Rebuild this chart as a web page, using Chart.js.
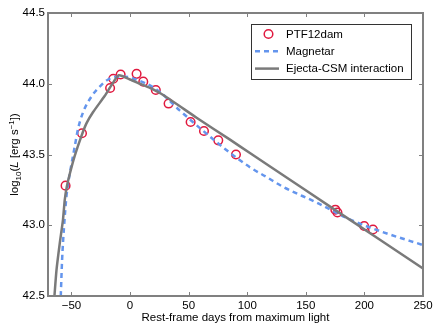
<!DOCTYPE html>
<html>
<head>
<meta charset="utf-8">
<script src="https://cdn.jsdelivr.net/npm/chart.js@4/dist/chart.umd.min.js"></script>
<style>
  html, body { margin: 0; padding: 0; background: #fff; }
  #wrap { width: 436px; height: 329px; }
</style>
</head>
<body>
<div id="wrap"><canvas id="lcChart"></canvas></div>
<script>
// PTF12dam observed points (rest-frame days, log10 L)
const obsDays = [-55, -41, -17, -14.3, -8, 5.6, 11.3, 22, 32.9, 51.7, 63.1, 75.3, 90.4, 175.2, 177, 199.8, 207.3];
const obsLogL = [43.28, 43.65, 43.97, 44.035, 44.065, 44.07, 44.015, 43.956, 43.86, 43.73, 43.666, 43.60, 43.50, 43.11, 43.09, 42.995, 42.97];

// magnetar model curve
const magDays = [-59.1, -58, -56.3, -54.3, -52.9, -50, -47.2, -44.4, -40, -32.9, -25.8, -18.7, -11.5, -5, 5, 22.6, 42.6, 62, 82.5, 102.3, 116.7, 130.9, 159.4, 187.9, 216.3, 250];
const magLogL = [42.5, 42.75, 42.99, 43.2, 43.29, 43.43, 43.555, 43.68, 43.8, 43.91, 43.98, 44.03, 44.05, 44.05, 44.03, 43.96, 43.81, 43.67, 43.53, 43.41, 43.34, 43.27, 43.16, 43.04, 42.95, 42.86];

// ejecta-CSM interaction model curve
const csmDays = [-64.5, -62.8, -60, -57.2, -55.7, -54, -51.5, -47.2, -41.5, -37.2, -31.5, -21.5, -15.8, -9.6, 0, 8.4, 17, 28.3, 56.8, 85.3, 102.3, 119.5, 176.5, 250];
const csmLogL = [42.5, 42.68, 42.87, 43.04, 43.18, 43.27, 43.36, 43.49, 43.63, 43.72, 43.80, 43.915, 43.99, 44.06, 44.03, 44.0, 43.97, 43.92, 43.76, 43.605, 43.51, 43.415, 43.10, 42.695];

const xTicks = [-50, 0, 50, 100, 150, 200, 250];
const yTicks = [42.5, 43.0, 43.5, 44.0, 44.5];

const toPts = (xs, ys) => xs.map((x, i) => ({ x: x, y: ys[i] }));
const FONT = 'Liberation Sans, Arial, Helvetica, sans-serif';
const frameColor = '#808080';

// y title drawn by hand so the sub/superscripts and italic L look right
function drawYTitle(ctx, cy) {
    const parts = [
        { t: 'log', f: '11.5px ' + FONT, dy: 0 },
        { t: '10', f: '8px ' + FONT, dy: 3 },
        { t: '(', f: '11.5px ' + FONT, dy: 0 },
        { t: 'L', f: 'italic 11.5px ' + FONT, dy: 0 },
        { t: ' [erg s', f: '11.5px ' + FONT, dy: 0 },
        { t: '\u22121', f: '8px ' + FONT, dy: -4.5 },
        { t: '])', f: '11.5px ' + FONT, dy: 0 }
    ];
    let total = 0;
    parts.forEach(p => { ctx.font = p.f; p.w = ctx.measureText(p.t).width; total += p.w; });
    ctx.save();
    ctx.translate(0, cy);
    ctx.rotate(-Math.PI / 2);
    ctx.fillStyle = '#000';
    ctx.textBaseline = 'alphabetic';
    let x = -total / 2;
    parts.forEach(p => {
        ctx.font = p.f;
        ctx.fillText(p.t, x, 18 + p.dy);
        x += p.w;
    });
    ctx.restore();
}

// frame + inward ticks like matplotlib classic
const framePlugin = {
    id: 'frame',
    afterDraw(chart) {
        const { ctx, chartArea: a, scales } = chart;
        ctx.save();
        ctx.strokeStyle = frameColor;
        ctx.lineWidth = 1;
        xTicks.forEach(v => {
            const px = Math.round(scales.x.getPixelForValue(v)) + 0.5;
            ctx.beginPath();
            ctx.moveTo(px, a.bottom); ctx.lineTo(px, a.bottom - 4);
            ctx.moveTo(px, a.top); ctx.lineTo(px, a.top + 4);
            ctx.stroke();
        });
        yTicks.forEach(v => {
            const py = Math.round(scales.y.getPixelForValue(v)) + 0.5;
            ctx.beginPath();
            ctx.moveTo(a.left, py); ctx.lineTo(a.left + 4, py);
            ctx.moveTo(a.right, py); ctx.lineTo(a.right - 4, py);
            ctx.stroke();
        });
        ctx.lineWidth = 2;
        ctx.strokeRect(a.left, a.top, a.right - a.left, a.bottom - a.top);

        // legend box
        const bx = a.right - 172, by = a.top + 11, bw = 160, bh = 55;
        ctx.fillStyle = '#fff';
        ctx.fillRect(bx, by, bw, bh);
        ctx.strokeStyle = '#333';
        ctx.lineWidth = 1;
        ctx.strokeRect(bx + 0.5, by + 0.5, bw, bh);
        ctx.font = '11.5px ' + FONT;
        ctx.fillStyle = '#000';
        ctx.textBaseline = 'middle';
        chart.data.datasets.forEach((ds, i) => {
            const ry = by + 10 + i * 17.3;
            ctx.strokeStyle = ds.borderColor;
            if (i === 0) {
                ctx.lineWidth = 1.5;
                ctx.beginPath();
                ctx.arc(bx + 17.5, ry, 4.3, 0, Math.PI * 2);
                ctx.stroke();
            } else {
                ctx.lineWidth = ds.borderWidth;
                ctx.setLineDash(ds.borderDash || []);
                ctx.beginPath();
                ctx.moveTo(bx + 4, ry); ctx.lineTo(bx + 28, ry);
                ctx.stroke();
                ctx.setLineDash([]);
            }
            ctx.fillText(ds.label, bx + 35, ry + 0.5);
        });
        ctx.restore();

        drawYTitle(ctx, (a.top + a.bottom) / 2);
    }
};

new Chart(document.getElementById('lcChart').getContext('2d'), {
    type: 'scatter',
    data: {
        datasets: [
            {
                label: 'PTF12dam',
                data: toPts(obsDays, obsLogL),
                borderColor: '#e0193f',
                backgroundColor: 'rgba(0,0,0,0)',
                borderWidth: 1.5,
                pointRadius: 4.3,
                order: 3
            },
            {
                label: 'Magnetar',
                data: toPts(magDays, magLogL),
                showLine: true,
                borderColor: '#6495ed',
                borderWidth: 2.5,
                borderDash: [5, 4],
                pointRadius: 0,
                cubicInterpolationMode: 'monotone',
                order: 2
            },
            {
                label: 'Ejecta-CSM interaction',
                data: toPts(csmDays, csmLogL),
                showLine: true,
                borderColor: '#7a7a7a',
                borderWidth: 2.5,
                pointRadius: 0,
                tension: 0.2,
                order: 1
            }
        ]
    },
    options: {
        responsive: true,
        maintainAspectRatio: false,
        animation: false,
        layout: { padding: { top: 13, right: 13, left: 0, bottom: 0 } },
        plugins: {
            legend: { display: false },
            tooltip: { enabled: false }
        },
        scales: {
            x: {
                type: 'linear',
                min: -70,
                max: 250,
                grid: { display: false, drawTicks: false },
                border: { display: false },
                afterBuildTicks: axis => { axis.ticks = xTicks.map(v => ({ value: v })); },
                afterFit: axis => { axis.height = 33; },
                ticks: {
                    padding: 3,
                    color: '#000',
                    font: { family: FONT, size: 11.5 },
                    maxRotation: 0,
                    callback: v => String(v).replace('-', '\u2212')
                },
                title: {
                    display: true,
                    text: 'Rest-frame days from maximum light',
                    color: '#000',
                    font: { family: FONT, size: 11.5 },
                    padding: { top: 0, bottom: 4 }
                }
            },
            y: {
                type: 'linear',
                min: 42.5,
                max: 44.5,
                grid: { display: false, drawTicks: false },
                border: { display: false },
                afterBuildTicks: axis => { axis.ticks = yTicks.map(v => ({ value: v })); },
                afterFit: axis => { axis.width = 48; },
                ticks: {
                    padding: 3,
                    color: '#000',
                    font: { family: FONT, size: 11.5 },
                    callback: v => v.toFixed(1)
                },
                title: { display: false }
            }
        }
    },
    plugins: [framePlugin]
});
</script>
</body>
</html>
